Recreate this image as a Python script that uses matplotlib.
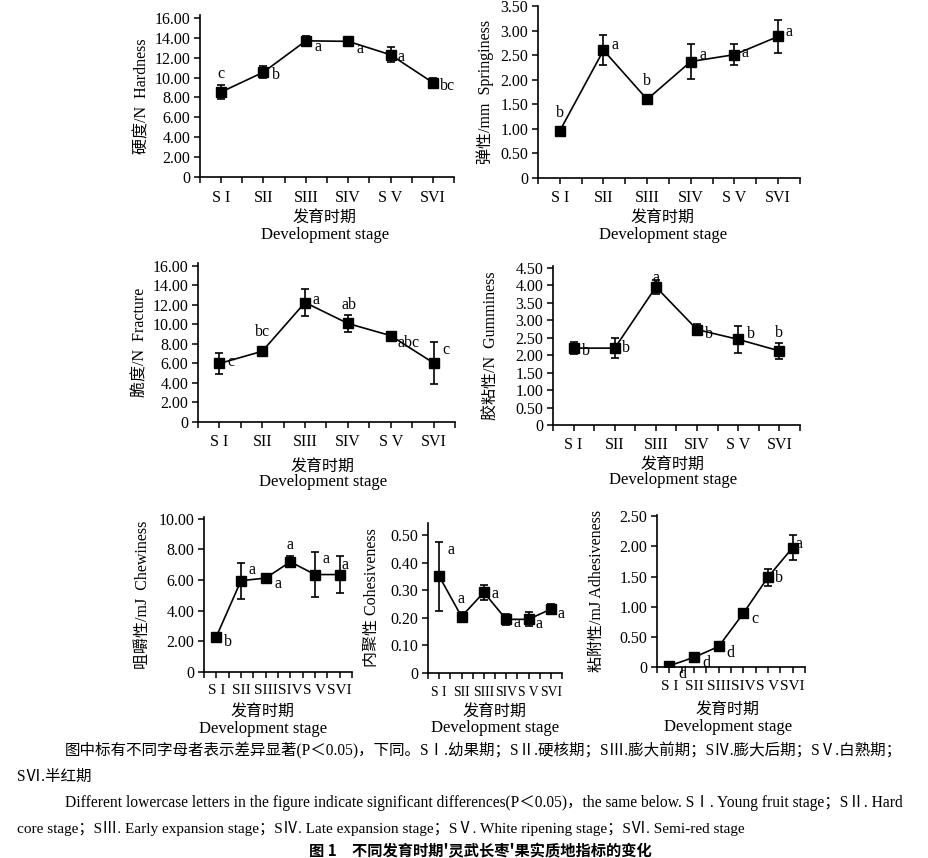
import matplotlib
matplotlib.use('Agg')
import matplotlib.pyplot as plt
import numpy as np
from matplotlib.ticker import FixedLocator, FuncFormatter

plt.rcParams['font.family'] = ['Liberation Serif', 'Noto Sans CJK SC']
plt.rcParams['axes.unicode_minus'] = False

W, H = 929, 858

stages = ['S I', 'SII', 'SIII', 'SIV', 'S V', 'SVI']

hardness = [8.55, 10.55, 13.70, 13.65, 12.30, 9.50]
hardness_err = [0.70, 0.60, 0.45, 0.25, 0.75, 0.45]
hardness_sig = ['c', 'b', 'a', 'a', 'a', 'bc']

springiness = [0.96, 2.60, 1.60, 2.37, 2.51, 2.88]
springiness_err = [0.03, 0.30, 0.03, 0.35, 0.22, 0.33]
springiness_sig = ['b', 'a', 'b', 'a', 'a', 'a']

fracture = [6.00, 7.25, 12.25, 10.10, 8.85, 6.05]
fracture_err = [1.10, 0.40, 1.40, 0.85, 0.25, 2.20]
fracture_sig = ['c', 'bc', 'a', 'ab', 'abc', 'c']

gumminess = [2.20, 2.20, 3.95, 2.73, 2.45, 2.12]
gumminess_err = [0.17, 0.28, 0.20, 0.15, 0.38, 0.23]
gumminess_sig = ['b', 'b', 'a', 'b', 'b', 'b']

chewiness = [2.30, 5.95, 6.12, 7.18, 6.35, 6.35]
chewiness_err = [0.10, 1.18, 0.25, 0.35, 1.45, 1.20]
chewiness_sig = ['b', 'a', 'a', 'a', 'a', 'a']

cohesiveness = [0.352, 0.205, 0.293, 0.195, 0.195, 0.232]
cohesiveness_err = [0.125, 0.015, 0.027, 0.020, 0.025, 0.017]
cohesiveness_sig = ['a', 'a', 'a', 'a', 'a', 'a']

adhesiveness = [0.02, 0.16, 0.34, 0.89, 1.49, 1.98]
adhesiveness_err = [0.02, 0.05, 0.03, 0.02, 0.14, 0.21]
adhesiveness_sig = ['d', 'd', 'd', 'c', 'b', 'a']

ylabels = ['硬度/N  Hardness', '弹性/mm  Springiness', '脆度/N  Fracture',
           '胶粘性/N  Gumminess', '咀嚼性/mJ  Chewiness', '内聚性 Cohesiveness',
           '粘附性/mJ Adhesiveness']

caption_cn1 = '图中标有不同字母者表示差异显著(P＜0.05)，下同。SⅠ.幼果期；SⅡ.硬核期；SⅢ.膨大前期；SⅣ.膨大后期；SⅤ.白熟期；'
caption_cn2 = 'SⅥ.半红期'
caption_en1 = 'Different lowercase letters in the figure indicate significant differences(P＜0.05)，the same below. SⅠ. Young fruit stage；SⅡ. Hard'
caption_en2 = 'core stage；SⅢ. Early expansion stage；SⅣ. Late expansion stage；SⅤ. White ripening stage；SⅥ. Semi-red stage'
title = "图 1　不同发育时期'灵武长枣'果实质地指标的变化"

# layout: (left, top, right, bottom) in pixels; ylabel x; xlabel center x, y1, y2
panels = [
    dict(v=hardness, e=hardness_err, s=hardness_sig, rect=(200, 15, 454, 177), ylim=16.3, step=2.0, tmax=16,
         off=[(0, 18), (12, -3), (12, -6), (12, -8), (11, -2), (15, -3)], ylx=142, xl=(325, 218, 235), xls=11.5),
    dict(v=springiness, e=springiness_err, s=springiness_sig, rect=(538, 6, 800, 178), ylim=3.5, step=0.5, tmax=3.5,
         off=[(0, 18), (12, 5), (0, 18), (12, 7), (11, 2), (11, 4)], ylx=485, xl=(663, 218, 235), xls=11.5),
    dict(v=fracture, e=fracture_err, s=fracture_sig, rect=(198, 263, 455, 422), ylim=16.3, step=2.0, tmax=16,
         off=[(12, 1), (0, 19), (11, 3), (1, 18), (18, -7), (12, 13)], ylx=140, xl=(323, 467, 482), xls=11.5),
    dict(v=gumminess, e=gumminess_err, s=gumminess_sig, rect=(553, 266, 800, 425), ylim=4.55, step=0.5, tmax=4.5,
         off=[(12, -3), (11, 0), (0, 9), (12, -4), (13, 5), (0, 18)], ylx=492, xl=(673, 465, 480), xls=11.5),
    dict(v=chewiness, e=chewiness_err, s=chewiness_sig, rect=(204, 517, 352, 672), ylim=10.1, step=2.0, tmax=10,
         off=[(12, -5), (11, 11), (12, -6), (0, 17), (11, 16), (5, 10)], ylx=143, xl=(263, 712, 729), xls=11),
    dict(v=cohesiveness, e=cohesiveness_err, s=cohesiveness_sig, rect=(428, 523, 562, 673), ylim=0.545, step=0.1, tmax=0.5,
         off=[(12, 26), (0, 18), (11, -2), (11, -4), (11, -5), (10, -5)], ylx=372, xl=(495, 712, 728), xls=9.8),
    dict(v=adhesiveness, e=adhesiveness_err, s=adhesiveness_sig, rect=(657, 515, 805, 667), ylim=2.52, step=0.5, tmax=2.5,
         off=[(13, -8), (12, -6), (12, -7), (12, -6), (11, -1), (6, 4)], ylx=597, xl=(728, 710, 727), xls=11),
]

fig = plt.figure(figsize=(W / 100, H / 100), dpi=100)


def ftext(x, y, s, **kw):
    return fig.text(x / W, 1 - y / H, s, **kw)


def fmt(v, pos):
    return '0' if abs(v) < 1e-9 else '%.2f' % v


x = np.arange(len(stages))
for p, yl in zip(panels, ylabels):
    l, t, r, b = p['rect']
    ax = fig.add_axes([l / W, 1 - b / H, (r - l) / W, (b - t) / H])
    ax.errorbar(x, p['v'], yerr=p['e'], color='black', marker='s', markersize=6.5,
                linewidth=1.2, elinewidth=1.2, capsize=3, capthick=1.2)
    ax.set_xlim(-0.5, len(stages) - 0.5)
    ax.set_ylim(0, p['ylim'])
    ticks = np.round(np.arange(0, p['tmax'] + p['step'] / 2, p['step']), 3)
    ax.yaxis.set_major_locator(FixedLocator(ticks))
    ax.yaxis.set_major_formatter(FuncFormatter(fmt))
    ax.set_xticks(x)
    ax.set_xticklabels(stages)
    ax.set_xticks(np.arange(-0.5, len(stages), 1.0), minor=True)
    for sp in ('top', 'right'):
        ax.spines[sp].set_visible(False)
    for sp in ('left', 'bottom'):
        ax.spines[sp].set_linewidth(1.2)
    ax.tick_params(axis='both', which='both', direction='out', length=4, width=1.1,
                   labelsize=11.5, pad=3)
    ax.tick_params(axis='x', which='major', pad=5, labelsize=p['xls'])
    for xi, yi, s, o in zip(x, p['v'], p['s'], p['off']):
        ax.annotate(s, (xi, yi), xytext=o, textcoords='offset pixels',
                    ha='center', va='center', fontsize=11.5)
    ftext(p['ylx'], (t + b) / 2, yl, rotation=90, ha='center', va='center', fontsize=11.5)
    cx, y1, y2 = p['xl']
    ftext(cx, y1, '发育时期', ha='center', va='center', fontsize=11.5)
    ftext(cx, y2, 'Development stage', ha='center', va='center', fontsize=12)

ftext(65, 751, caption_cn1, ha='left', va='center', fontsize=11.2)
ftext(17, 777, caption_cn2, ha='left', va='center', fontsize=11.2)
ftext(65, 803, caption_en1, ha='left', va='center', fontsize=11.2)
ftext(17, 828, caption_en2, ha='left', va='center', fontsize=11)
ftext(480, 851, title, ha='center', va='center', fontsize=11, fontweight='bold',
      family=['Noto Sans CJK SC'])

fig.savefig('out.png', dpi=100)
